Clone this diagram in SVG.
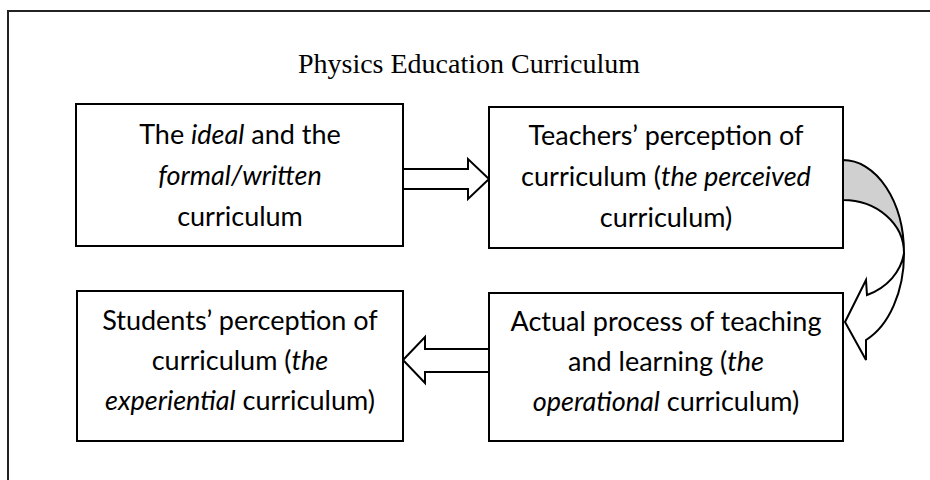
<svg xmlns="http://www.w3.org/2000/svg" width="930" height="480" viewBox="0 0 930 480">
  <defs>
    <style>
      .frame { fill: none; stroke: #222; stroke-width: 2; }
      .box { fill: #fff; stroke: #000; stroke-width: 2; }
      .arrow { fill: #fff; stroke: #000; stroke-width: 2; stroke-linejoin: miter; }
      .shade { fill: #d0d0d0; stroke: #000; stroke-width: 2; }
      .title { font-family: "Liberation Serif", "Times New Roman", serif; font-size: 28px; fill: #000; text-anchor: middle; }
      .label { font-family: Lato, "Liberation Sans", sans-serif; font-size: 27px; fill: #000; text-anchor: middle; }
      .it { font-style: italic; }
    </style>
  </defs>

  <rect x="0" y="0" width="930" height="480" fill="#fff"/>
  <!-- outer frame, continues past the right and bottom edges -->
  <rect class="frame" x="8" y="11" width="940" height="490"/>

  <text class="title" x="469" y="73">Physics Education Curriculum</text>

  <!-- connectors -->
  <g id="connectors">
    <polygon class="arrow" points="403,169 468,169 468,159 489,179 468,199 468,189 403,189"/>
    <path class="shade" d="M843,160 A61,93 0 0,1 904,253 A61,53 0 0,0 843,200 Z"/>
    <path class="arrow" d="M904,253 A61,53 0 0,1 867,295 L866,280 L845,322 L866,360 L866,340 A61,93 0 0,0 904,253 Z"/>
    <polygon class="arrow" points="489,349 425,349 425,337 403,360 425,383 425,372 489,372"/>
  </g>

  <g id="ideal">
    <rect class="box" x="76" y="104" width="327" height="142"/>
    <text class="label" x="240" y="144">The <tspan class="it">ideal</tspan> and the</text>
    <text class="label" x="240" y="185"><tspan class="it">formal/written</tspan></text>
    <text class="label" x="240" y="226">curriculum</text>
  </g>

  <g id="perceived">
    <rect class="box" x="489" y="107" width="354" height="141"/>
    <text class="label" x="666" y="145">Teachers’ perception of</text>
    <text class="label" x="666" y="186">curriculum (<tspan class="it">the perceived</tspan></text>
    <text class="label" x="666" y="227">curriculum)</text>
  </g>

  <g id="operational">
    <rect class="box" x="489" y="293" width="354" height="148"/>
    <text class="label" x="666" y="331">Actual process of teaching</text>
    <text class="label" x="666" y="371">and learning (<tspan class="it">the</tspan></text>
    <text class="label" x="666" y="411"><tspan class="it">operational</tspan> curriculum)</text>
  </g>

  <g id="experiential">
    <rect class="box" x="77" y="291" width="326" height="150"/>
    <text class="label" x="240" y="330">Students’ perception of</text>
    <text class="label" x="240" y="370">curriculum (<tspan class="it">the</tspan></text>
    <text class="label" x="240" y="410"><tspan class="it">experiential</tspan> curriculum)</text>
  </g>
</svg>
